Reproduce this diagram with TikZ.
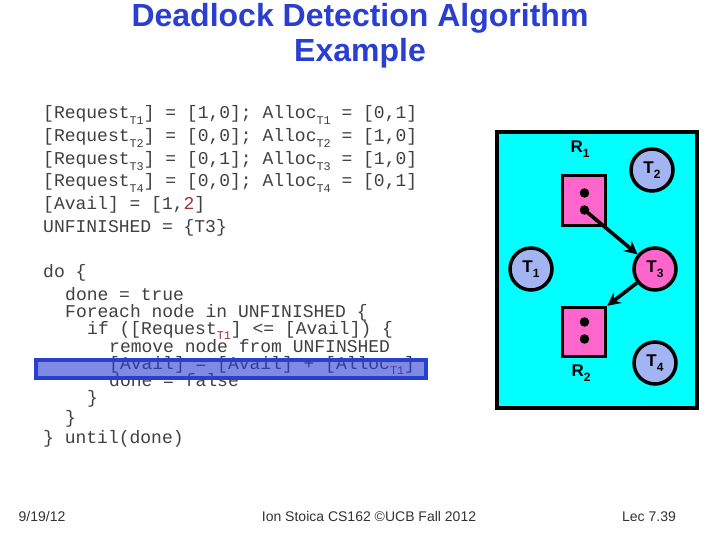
\documentclass[tikz,border=0pt]{standalone}
\usepackage{fontspec}
\setmainfont{Liberation Sans}
\setmonofont{Liberation Mono}
\usetikzlibrary{arrows.meta}
\definecolor{titleblue}{HTML}{2A3FD0}
\definecolor{panelcyan}{HTML}{00FFFF}
\definecolor{respink}{HTML}{FF66CC}
\definecolor{taskblue}{HTML}{A3B4F2}
\definecolor{redtxt}{HTML}{A03030}
\newcommand{\subT}[1]{\raisebox{-0.3em}{\fontsize{11.8}{12}\selectfont #1}}
\newcommand{\redsub}[1]{\textcolor{redtxt}{\subT{#1}}}
\newcommand{\lblsub}[1]{\raisebox{-0.3em}{\fontsize{12}{12}\selectfont #1}}
\tikzset{
  x=1pt,y=-1pt,
  code/.style={anchor=base west,inner sep=0pt,font=\fontsize{18}{18}\selectfont\ttfamily,text=black!75},
  titletxt/.style={anchor=base,inner sep=0pt,font=\fontsize{32}{32}\selectfont\bfseries,text=titleblue},
  foot/.style={anchor=base,inner sep=0pt,font=\fontsize{14}{14}\selectfont,text=black!80},
  panel/.style={draw=black,line width=4pt,fill=panelcyan},
  res/.style={draw=black,line width=3.5pt,fill=respink},
  dotn/.style={circle,fill=black,minimum size=9.5pt,inner sep=0pt},
  task/.style={circle,draw=black,line width=3.5pt,fill=taskblue,minimum size=42pt,inner sep=0pt,font=\fontsize{17}{17}\selectfont\bfseries},
  lbl/.style={inner sep=0pt,font=\fontsize{17}{17}\selectfont\bfseries},
  linkarrow/.style={draw=black,line width=3.6pt,-{Stealth[length=13pt,width=13pt]}},
  hilite/.style={draw=titleblue,line width=4pt,fill=titleblue,fill opacity=0.6}
}
\begin{document}
\begin{tikzpicture}
\useasboundingbox (0,0) rectangle (720,540);
\fill[white] (0,0) rectangle (720,540);
\node[titletxt] (t1) at (360,27) {Deadlock Detection Algorithm};
\node[titletxt] (t2) at (360,62) {Example};
\node[code] (l1) at (43,119) {[Request\subT{T1}] = [1,0]; Alloc\subT{T1} = [0,1]};
\node[code] (l2) at (43,142) {[Request\subT{T2}] = [0,0]; Alloc\subT{T2} = [1,0]};
\node[code] (l3) at (43,165) {[Request\subT{T3}] = [0,1]; Alloc\subT{T3} = [1,0]};
\node[code] (l4) at (43,187) {[Request\subT{T4}] = [0,0]; Alloc\subT{T4} = [0,1]};
\node[code] (l5) at (43,210) {[Avail] = [1,\textcolor{redtxt}{2}]};
\node[code] (l6) at (43,233) {UNFINISHED = \{T3\}};
\node[code] (c1) at (43,277) {do \{};
\node[code] (c2) at (65,300) {done = true};
\node[code] (c3) at (65,317) {Foreach node in UNFINISHED \{};
\node[code] (c4) at (87,334) {if ([Request\redsub{T1}] <= [Avail]) \{};
\node[code] (c5) at (109,352) {remove node from UNFINSHED};
\node[code] (c6) at (109,369) {[Avail] = [Avail] + [Alloc\redsub{T1}]};
\node[code] (c7) at (109,386) {done = false};
\node[code] (c8) at (87,403) {\}};
\node[code] (c9) at (65,423) {\}};
\node[code] (c10) at (43,443) {\} until(done)};
\draw[hilite] (36,360) rectangle (426,378);
\node[foot] (f1) at (42,521) {9/19/12};
\node[foot] (f2) at (369,521) {Ion Stoica CS162 ©UCB Fall 2012};
\node[foot] (f3) at (649,521) {Lec 7.39};
\draw[panel] (497,132) rectangle (697,408);
\node[res,minimum width=43pt,minimum height=50pt,inner sep=0pt] (R1) at (584,200.5) {};
\node[res,minimum width=43pt,minimum height=49pt,inner sep=0pt] (R2) at (584,332) {};
\node[dotn] (d1) at (584.5,193) {};
\node[dotn] (d2) at (584.5,210) {};
\node[dotn] (d3) at (584.5,322) {};
\node[dotn] (d4) at (584.5,339) {};
\node[task] (T1) at (531,269) {T\lblsub{1}};
\node[task] (T2) at (652,170) {T\lblsub{2}};
\node[task,fill=respink] (T3) at (655,269) {T\lblsub{3}};
\node[task] (T4) at (655,363) {T\lblsub{4}};
\node[lbl] (n1) at (580,149) {R\lblsub{1}};
\node[lbl] (n2) at (581,373) {R\lblsub{2}};
\path[linkarrow] (d2.center) -- (T3);
\path[linkarrow] (T3) -- (R2.north east);
\end{tikzpicture}
\end{document}
